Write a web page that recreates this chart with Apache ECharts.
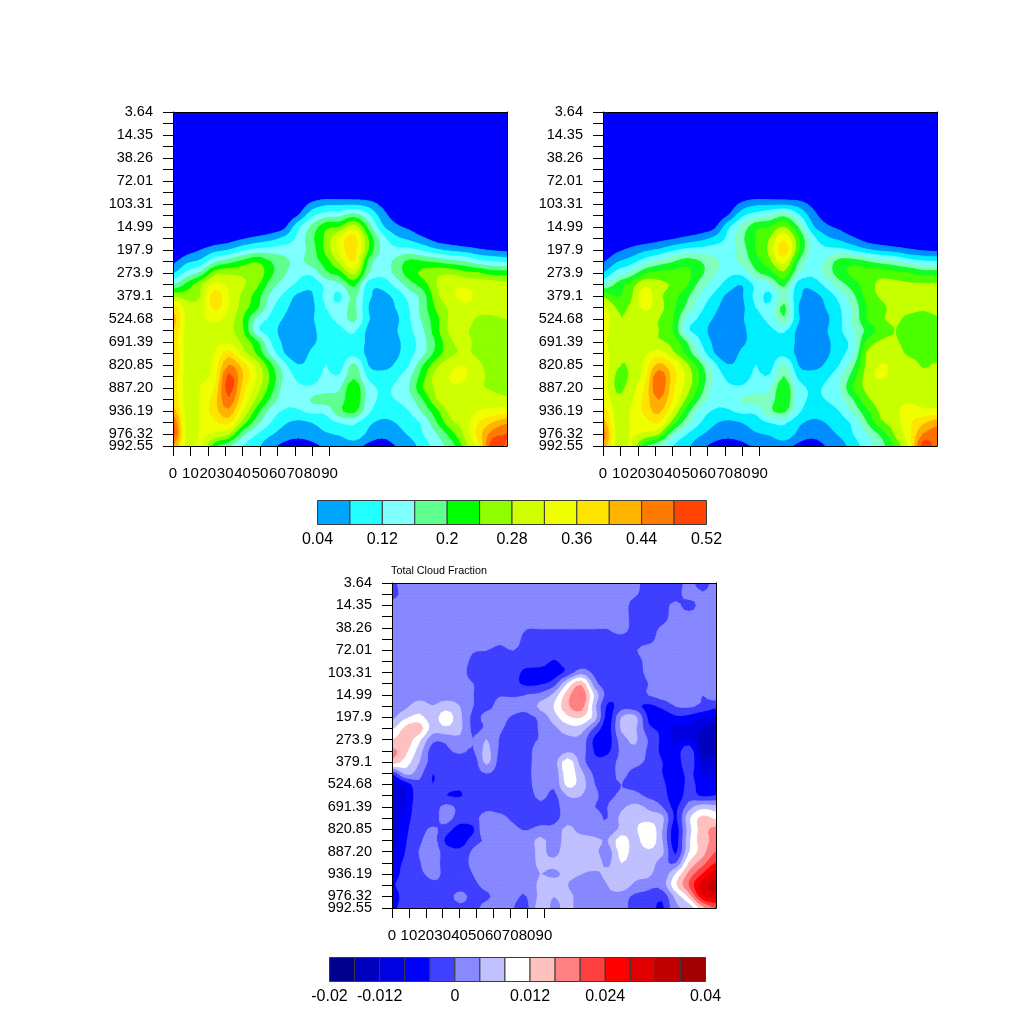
<!DOCTYPE html>
<html><head><meta charset="utf-8">
<style>html,body{margin:0;padding:0;background:#fff}#c{width:1024px;height:1024px}</style>
<script src="https://cdn.jsdelivr.net/npm/echarts@6/dist/echarts.min.js"></script>
</head><body><div id="c"></div>
<script>
const yTickLabels=['3.64','14.35','38.26','72.01','103.31','14.99','197.9','273.9','379.1','524.68','691.39','820.85','887.20','936.19','976.32','992.55'];
const yLabelLevels=[0,1,2,3,4,5,6,7,8,9,10,11,12,13,14,14.52];
const yTickLevels=[0,.5,1,1.5,2,2.5,3,3.5,4,4.5,5,5.5,6,6.5,7,7.5,8,8.5,9,9.5,10,10.5,11,11.5,12,12.5,13,13.5,14,14.52];
const xTickValues=[0,10,20,30,40,50,60,70,80,90];
const gridColumns=[0,8,16,24,32,40,48,56,64,72,80,88,96,104,112,120,128,136,144,152,160,168,176,184,192];
const cloudRows=[0,3.5,4,4.5,5,5.5,6,6.5,7,7.5,8,8.5,9,9.5,10,10.5,11,11.5,12,12.5,13,13.5,14,14.52];
const diffRows=yTickLevels;
const cloudEdges=[.04,.08,.12,.16,.2,.24,.28,.32,.36,.4,.44,.48,.52];
const cloudLabelValues=[.04,.12,.2,.28,.36,.44,.52];
const cloudColours=['#00a5ff','#22ffff','#80ffff','#5fff90','#00ff00','#8fff00','#cfff00','#efff00','#ffe400','#ffb400','#ff7a00','#ff4400'];
const cloudBelow='#0000ff';
const cloudColoursB=['#0090ff','#00f0ff','#70ffff','#80ffc0','#10ff20','#4cff00','#c8ff00','#f0ff00','#ffe400','#ffb000','#ff7000','#ff4000'];
const diffEdges=[-.02,-.016,-.012,-.008,-.004,0,.004,.008,.012,.016,.02,.024,.028,.032,.036,.04];
const diffLabelValues=[-.02,-.012,0,.012,.024,.04];
const diffColours=['#000090','#0000c0','#0000e0','#0000ff','#4040ff','#8888ff','#c0c0ff','#ffffff','#ffc0c0','#ff8080','#ff4040','#ff0000','#e00000','#c00000','#a00000'];

const cloudA=[
[0,0,0,0,0,0,0,0,0,0,0,0,0,0,0,0,0,0,0,0,0,0,0,0,0],
[0,0,0,0,0,0,0,0,0,0,0,0,0,0,0,0,0,0,0,0,0,0,0,0,0],
[0,0,0,0,0,0,0,0,0,.01,.05,.07,.07,.07,.06,.03,.01,0,0,0,0,0,0,0,0],
[0,0,0,0,0,0,0,0,.01,.04,.11,.14,.15,.18,.13,.06,.02,0,0,0,0,0,0,0,0],
[0,0,0,0,0,0,0,.01,.03,.11,.17,.23,.24,.30,.19,.09,.05,.03,.01,0,0,0,0,0,0],
[0,0,0,.01,.02,.035,.05,.065,.09,.13,.19,.25,.33,.38,.24,.14,.09,.07,.045,.02,.01,0,0,0,0],
[0,.02,.04,.065,.08,.11,.13,.135,.14,.14,.18,.25,.33,.38,.24,.15,.13,.13,.11,.085,.07,.06,.045,.035,.03],
[.03,.07,.09,.15,.18,.21,.235,.20,.17,.15,.18,.22,.29,.36,.19,.14,.17,.21,.20,.19,.17,.16,.13,.12,.11],
[.075,.13,.17,.26,.27,.27,.27,.21,.165,.13,.13,.19,.22,.29,.165,.13,.17,.22,.25,.27,.27,.25,.24,.22,.22],
[.155,.21,.27,.33,.31,.285,.25,.18,.14,.11,.09,.13,.15,.21,.10,.09,.13,.18,.22,.28,.31,.31,.30,.30,.29],
[.27,.26,.28,.38,.32,.27,.22,.15,.11,.07,.075,.13,.11,.17,.09,.07,.09,.135,.18,.27,.31,.33,.31,.31,.30],
[.38,.30,.30,.37,.32,.26,.21,.13,.09,.06,.07,.12,.13,.17,.08,.06,.08,.12,.18,.25,.29,.31,.30,.30,.30],
[.42,.30,.31,.33,.30,.24,.15,.11,.075,.06,.075,.11,.13,.17,.085,.06,.07,.115,.17,.23,.29,.30,.27,.27,.28],
[.40,.30,.31,.30,.29,.245,.13,.10,.06,.05,.07,.10,.11,.125,.07,.05,.075,.11,.155,.23,.29,.285,.26,.26,.26],
[.38,.30,.30,.31,.31,.27,.21,.12,.07,.05,.07,.10,.10,.11,.07,.05,.07,.10,.145,.21,.275,.29,.265,.26,.26],
[.40,.30,.31,.32,.38,.30,.235,.15,.08,.05,.09,.105,.105,.105,.07,.05,.07,.105,.15,.22,.27,.285,.27,.26,.26],
[.40,.30,.31,.33,.44,.38,.30,.21,.13,.08,.10,.12,.10,.17,.08,.06,.085,.12,.20,.27,.31,.318,.285,.265,.26],
[.38,.30,.31,.34,.49,.40,.32,.23,.15,.11,.11,.125,.125,.19,.11,.10,.11,.15,.225,.30,.322,.322,.29,.27,.27],
[.38,.30,.322,.36,.50,.38,.30,.22,.14,.125,.125,.14,.155,.23,.14,.115,.125,.16,.24,.29,.315,.31,.285,.275,.265],
[.39,.30,.322,.38,.47,.36,.27,.19,.135,.13,.165,.175,.175,.235,.14,.115,.12,.145,.20,.28,.31,.30,.31,.295,.29],
[.42,.30,.325,.38,.43,.32,.22,.145,.115,.115,.13,.13,.19,.21,.13,.10,.10,.12,.17,.23,.295,.30,.32,.33,.34],
[.48,.30,.325,.35,.37,.26,.175,.12,.085,.07,.08,.10,.12,.125,.09,.07,.08,.10,.13,.20,.27,.30,.36,.40,.43],
[.50,.30,.325,.31,.28,.17,.12,.085,.06,.05,.06,.075,.085,.11,.07,.05,.065,.085,.12,.16,.22,.29,.38,.46,.48],
[.44,.30,.325,.21,.165,.12,.09,.05,.03,.02,.03,.045,.045,.055,.03,.02,.04,.06,.10,.14,.18,.26,.35,.51,.47]
];
const cloudB=[
[0,0,0,0,0,0,0,0,0,0,0,0,0,0,0,0,0,0,0,0,0,0,0,0,0],
[0,0,0,0,0,0,0,0,0,0,0,0,0,0,0,0,0,0,0,0,0,0,0,0,0],
[0,0,0,0,0,0,0,0,0,.01,.05,.07,.07,.07,.06,.03,.01,0,0,0,0,0,0,0,0],
[0,0,0,0,0,0,0,0,.01,.04,.11,.14,.16,.19,.13,.06,.02,0,0,0,0,0,0,0,0],
[0,0,0,0,0,0,0,.01,.03,.11,.17,.23,.24,.28,.20,.09,.05,.03,.01,0,0,0,0,0,0],
[0,0,.01,.015,.025,.035,.05,.065,.09,.13,.19,.24,.28,.35,.25,.14,.09,.07,.045,.02,.01,0,0,0,0],
[.01,.03,.05,.07,.085,.11,.13,.135,.14,.14,.18,.24,.29,.39,.25,.15,.13,.13,.11,.085,.07,.06,.045,.035,.03],
[.035,.075,.10,.14,.17,.195,.22,.20,.17,.15,.17,.22,.27,.33,.20,.14,.165,.215,.22,.20,.18,.165,.14,.125,.12],
[.08,.135,.17,.23,.25,.25,.25,.21,.165,.13,.13,.19,.22,.27,.165,.13,.17,.22,.25,.26,.26,.25,.24,.22,.22],
[.155,.21,.255,.31,.29,.275,.245,.18,.14,.10,.08,.13,.15,.21,.10,.09,.13,.18,.22,.26,.29,.29,.285,.285,.285],
[.27,.235,.27,.34,.29,.255,.21,.15,.11,.07,.075,.13,.11,.17,.09,.07,.09,.135,.19,.255,.285,.295,.295,.295,.295],
[.33,.275,.285,.33,.295,.25,.19,.13,.09,.06,.07,.12,.13,.21,.08,.06,.08,.115,.17,.24,.27,.29,.29,.285,.29],
[.35,.285,.285,.29,.28,.24,.15,.11,.075,.06,.075,.11,.13,.19,.085,.06,.07,.11,.165,.24,.275,.285,.27,.265,.275],
[.34,.285,.285,.285,.28,.24,.13,.10,.06,.05,.07,.10,.11,.125,.07,.05,.075,.11,.16,.21,.255,.28,.26,.26,.26],
[.33,.285,.285,.285,.285,.265,.20,.12,.07,.05,.07,.10,.10,.11,.07,.05,.07,.10,.14,.25,.285,.285,.26,.26,.26],
[.34,.285,.285,.31,.34,.29,.23,.15,.08,.05,.09,.105,.105,.105,.07,.05,.07,.105,.15,.285,.30,.30,.27,.265,.265],
[.34,.285,.285,.33,.41,.36,.29,.21,.13,.08,.10,.12,.10,.17,.08,.06,.085,.12,.19,.29,.322,.31,.30,.275,.285],
[.34,.27,.285,.34,.47,.38,.31,.23,.15,.11,.11,.125,.125,.20,.11,.10,.11,.15,.22,.30,.325,.30,.285,.29,.30],
[.34,.27,.30,.36,.47,.37,.30,.22,.14,.125,.125,.14,.155,.23,.14,.115,.125,.16,.24,.29,.30,.30,.30,.30,.30],
[.35,.29,.31,.37,.44,.36,.27,.19,.135,.13,.165,.175,.175,.235,.14,.115,.12,.145,.20,.27,.30,.31,.31,.30,.30],
[.38,.30,.322,.37,.41,.32,.22,.145,.115,.115,.13,.13,.19,.21,.13,.10,.10,.12,.17,.23,.29,.31,.34,.33,.33],
[.42,.30,.322,.34,.36,.26,.175,.12,.085,.07,.08,.10,.12,.125,.09,.07,.08,.10,.13,.20,.27,.30,.35,.39,.42],
[.46,.30,.322,.31,.28,.17,.12,.085,.06,.05,.06,.075,.085,.11,.07,.05,.065,.085,.12,.16,.21,.285,.345,.44,.46],
[.43,.30,.322,.21,.165,.12,.09,.05,.03,.02,.03,.045,.045,.055,.03,.02,.04,.06,.10,.14,.18,.25,.33,.50,.46]
];
// difference field, in thousandths
const diffMilli=[
[-1,2,2,2,2,2,2,2,2,2,2,2,2,2,2,2,2,2,1,-2,-2,-2,1,-2,2],
[-2,2,2,2,2,2,2,2,2,2,2,2,2,2,2,2,2,2,.5,-2,-2,-2,2,.5,2],
[2,2,2,2,.5,2,2,2,2,2,2,2,2,2,2,2,2,2,-2,-2,-2,1,-2,2,2],
[2,2,2,.5,2,2,2,2,2,2,1,1,1,1,1,1,1,2,-2,-2,-2,2,2,2,2],
[2,2,2,2,2,2,2,2,2,2,.2,.2,.2,.2,.2,.2,.2,2,-2,-2,.5,2,2,2,2],
[2,2,2,2,2,2,2,2,1,2,-2,-2,-2,-2,-2,-2,-2,-1.5,-2,-2,2,2,2,2,2],
[2,2,2,2,2,2,.3,0,-1,0,-2,-2,-2,-2,-2,-2,-2,-2,-.5,2,2,2,2,2,2],
[2,2,1,2,2,2,-1,-2,-2,-2,-2,-2,-4.5,-2,-2,-2,-2,-2,-2,1.5,2,2,2,2,2],
[2,2,2,2,2,2,-2,-2,-2,-2.5,-5.5,-6,-6,-3,2,-1,-2,-2,-2,1,2,2,2,2,2],
[2,2,2,2,2,2,0,-2,-2,-3,-5,-4.5,-2,8,15,1.5,-2,-2,-2,0,2,2,2,2,2],
[2,2,2,2,2,2,0,-1,-.3,-.5,0,1,5,14,19,7,-2,-2,-2,0,1.5,2,2,0,2],
[2,3,6,4,6,4,0,-1,1,1,1,5,8,15,18,5,-5,-2,-3,-5,-3,0,.5,-1,-3],
[3,7,9,6,10,5,-1,1,1,-.5,-1,1,6,11,12,6,-6,4,5,-5,-7,-5,-5.5,-8,-9],
[7,13,14,6,7,5,-1,.5,.5,-2,-2,.5,3,6,6,-1,-6,4.5,4.5,-3,-5,-9,-9,-12,-14],
[12,14,9,1,1,3,0,4,-.5,-2,-2,.5,2,3,2.5,-5,-6,2,4.5,-.5,-5,-9,-8,-14,-16],
[17,13,6,-2,-1,1,-.5,5,-1,-2,-2,3,1.5,3,2,-4.5,-5,1,3,-1,-5,-7,-1,-14,-13],
[14,10,4,-2,-3,-3,-3,5,-2,-2,-2,3.5,2,10,2,-3,-2,1,1,-1,-4,-7,-1,-11,-10],
[-4,5,1.5,-4,-2,-2,-2,0,-1.5,-2,-2,4,1,10,5,-1,-1,.5,-1,-2,-4,-7,-3,-8,-9],
[-10,-7,-1,-4,-2,-3,-2,-1,-1,-2,-2,3,.5,9,6,0,-.5,0,-1,-2,-3,-7,-3,-6,-7],
[-12,-8,-2,-2,-4,-4.5,-2,-1,-2,-2,-2,1,-1,4,4,.5,-.5,.5,1,-1,-2,-7,-2,-5,-4],
[-12,-8,-1,-2,1,-1,-1.5,-.5,-1,-1,-2,-1,-1.5,2,2,0,0,3,5,3,0,-5,2,6,5],
[-12,-6,-2,-2,1.5,-2,-1,1,.5,-.5,-2,-1.5,-1.5,2,2,1,0,5,7,6,5,-5,7,13,11],
[-11,-5,-2,.5,-2,-6,-5,4,1,.5,-.3,1,1,5,2,1,1,5,7,11,4,-6,6,14,17],
[-10,-4.5,-1,1.5,-5,-7,-2,.5,1,1,1.5,5,1.5,6,6,5,4,10,6,11,4,-6,7,14,17],
[-9,-4,0,2,-2,-3,.5,2.5,1,1.5,1,5,2,7,6,5,2,9.5,6,7,5,-5,7.5,14,20],
[-7,-3,-.5,2,-2,-2,1,4,1,1.5,1.5,5,5,7,6,6,3,8,5,6,2,-.5,12,18,24],
[-7,-2,-1,1,-1,-2,0,3,1,0,2,4,3,5,4,3,5,5,5,5,1,8,17,24,30],
[-5,-1,-3,-1,-1,-2,-1,1,1,.5,1,5,6,4,2,1.5,4,6,3,1,1.5,11,20,30,33],
[-8,-1.5,-3,-2.5,-2,1,-1,-.5,1,.5,0,5,4,5,2,1.5,3,2,-1,-1,-3,5,13,27,30],
[-6,-1,-2,-2,-2,-1,-1,1,1,0,-1,6,3,5,2,1.5,1.5,1.5,-2,-2,-5,3,5,14,20]
];
const diffValues=diffMilli.map(r=>r.map(v=>v/1000));

const FONT='"Liberation Sans",Arial,sans-serif';
const chart=echarts.init(document.getElementById('c'),null,{renderer:'canvas'});

// contour drawing: smooth the read grid for the contour geometry only
const SUB=3;
function cr(p0,p1,p2,p3,t){return .5*(2*p1+(p2-p0)*t+(2*p0-5*p1+4*p2-p3)*t*t+(3*p1-p0-3*p2+p3)*t*t*t);}
function smoothAlong(line){
  const n=line.length,out=[];
  for(let i=0;i<n-1;i++){
    for(let s=0;s<SUB;s++){
      out.push(cr(line[Math.max(i-1,0)],line[i],line[i+1],line[Math.min(i+2,n-1)],s/SUB));
    }
  }
  out.push(line[n-1]);
  return out;
}
function linearAlong(line){
  const out=[];
  for(let i=0;i<line.length-1;i++)for(let s=0;s<SUB;s++)out.push(line[i]+(line[i+1]-line[i])*s/SUB);
  out.push(line[line.length-1]);
  return out;
}
function smoothField(values){
  const rowsDone=values.map(smoothAlong);
  const cols=rowsDone[0].map((_,c)=>smoothAlong(rowsDone.map(r=>r[c])));
  return cols[0].map((_,r)=>cols.map(col=>col[r]));
}
// keep the part of a cell where value >= edge
function clipCell(corners,edge){
  const out=[];
  for(let k=0;k<corners.length;k++){
    const a=corners[k],b=corners[(k+1)%corners.length];
    const ain=a[2]>=edge,bin=b[2]>=edge;
    if(ain)out.push([a[0],a[1]]);
    if(ain!==bin){
      const t=(edge-a[2])/(b[2]-a[2]);
      out.push([a[0]+t*(b[0]-a[0]),a[1]+t*(b[1]-a[1])]);
    }
  }
  return out;
}
function contourSeries(g,rows,values,edges,below,colours){
  const lower=[-Infinity].concat(edges.slice(0,-1));
  const fills=[below].concat(colours);
  const fine=smoothField(values),fx=linearAlong(gridColumns),fy=linearAlong(rows);
  return {
    type:'custom',xAxisIndex:g.x,yAxisIndex:g.y,silent:true,z:2,clip:true,
    data:lower.map((_,i)=>[i]),
    encode:{x:0},
    renderItem(params,api){
      const i=api.value(0),edge=lower[i],fill=fills[i],children=[];
      const px=fx.map(v=>api.coord([v,0])[0]),py=fy.map(v=>api.coord([0,v])[1]);
      if(i===0){
        children.push({type:'polygon',shape:{points:[[px[0],py[0]],[px[px.length-1],py[0]],[px[px.length-1],py[py.length-1]],[px[0],py[py.length-1]]]},style:{fill},silent:true});
        return {type:'group',children};
      }
      for(let r=0;r<fy.length-1;r++)for(let c=0;c<fx.length-1;c++){
        const cn=[[c,r],[c+1,r],[c+1,r+1],[c,r+1]].map(([cc,rr])=>[px[cc],py[rr],fine[rr][cc]]);
        if(Math.max(cn[0][2],cn[1][2],cn[2][2],cn[3][2])<edge)continue;
        const pts=clipCell(cn,edge);
        if(pts.length>=3)children.push({type:'polygon',shape:{points:pts},style:{fill,stroke:fill,lineWidth:.8},silent:true});
      }
      return {type:'group',children};
    }
  };
}
function barSeries(g,edges,colours){
  return {
    type:'custom',xAxisIndex:g.x,yAxisIndex:g.y,silent:true,z:2,
    data:colours.map((_,i)=>[i]),encode:{x:-1,y:-1},
    renderItem(params,api){
      const i=api.value(0),a=api.coord([edges[i],1]),b=api.coord([edges[i+1],0]);
      return {type:'rect',shape:{x:a[0],y:a[1],width:b[0]-a[0],height:b[1]-a[1]},style:{fill:colours[i],stroke:'#3a3a3a',lineWidth:1}};
    }
  };
}
const grids=[],xAxes=[],yAxes=[],series=[];
const line={show:true,onZero:false,lineStyle:{color:'#000',width:1}};
const yLabelStyle={show:true,margin:20,hideOverlap:false,padding:[2,0,0,0],fontFamily:FONT,fontSize:14.5,color:'#000',formatter:v=>yTickLabels[yLabelLevels.indexOf(v)]};
function panel(left,top,w,h){
  const gi=grids.length;
  grids.push({left,top,width:w,height:h,containLabel:false});
  const g={x:xAxes.length,y:yAxes.length};
  xAxes.push({gridIndex:gi,type:'value',position:'bottom',min:0,max:192,z:5,axisLine:line,splitLine:{show:false},
    axisTick:{show:true,length:10,inside:false,customValues:xTickValues,lineStyle:{color:'#000',width:1}},
    axisLabel:{show:true,margin:20,hideOverlap:false,fontFamily:FONT,fontSize:15,color:'#000',customValues:xTickValues,formatter:v=>String(v)}});
  yAxes.push({gridIndex:gi,type:'value',position:'left',inverse:true,min:0,max:14.52,z:5,axisLine:line,splitLine:{show:false},
    axisTick:{show:true,length:10,customValues:yTickLevels,lineStyle:{color:'#000',width:1}},
    axisLabel:Object.assign({customValues:yLabelLevels.slice(0,-1),showMinLabel:true,showMaxLabel:true},yLabelStyle)});
  xAxes.push({gridIndex:gi,type:'value',position:'top',min:0,max:192,z:5,axisLine:line,axisTick:{show:false},axisLabel:{show:false},splitLine:{show:false}});
  yAxes.push({gridIndex:gi,type:'value',position:'right',min:0,max:14.52,z:5,axisLine:line,axisTick:{show:false},axisLabel:{show:false},splitLine:{show:false}});
  // the bottom level label sits over its neighbour, so it gets an axis of its own
  const over=grids.length;
  grids.push({left,top,width:w,height:h,containLabel:false});
  xAxes.push({gridIndex:over,type:'value',min:0,max:192,show:false});
  yAxes.push({gridIndex:over,type:'value',position:'left',inverse:true,min:0,max:14.52,axisLine:{show:false},axisTick:{show:false},splitLine:{show:false},
    axisLabel:Object.assign({customValues:yLabelLevels.slice(-1)},yLabelStyle)});
  return g;
}
function bar(left,top,w,h,edges,labelValues){
  const gi=grids.length;
  grids.push({left,top,width:w,height:h,containLabel:false});
  const g={x:xAxes.length,y:yAxes.length};
  xAxes.push({gridIndex:gi,type:'value',position:'bottom',min:edges[0],max:edges[edges.length-1],
    axisLine:{show:false},axisTick:{show:false},splitLine:{show:false},
    axisLabel:{show:true,margin:7,hideOverlap:false,fontFamily:FONT,fontSize:16,color:'#000',customValues:labelValues,formatter:v=>String(+v.toFixed(3))}});
  yAxes.push({gridIndex:gi,type:'value',min:0,max:1,show:false});
  return g;
}
const pA=panel(173,112,334,334);
series.push(contourSeries(pA,cloudRows,cloudA,cloudEdges,cloudBelow,cloudColours));
const pB=panel(603,112,334,334);
series.push(contourSeries(pB,cloudRows,cloudB,cloudEdges,cloudBelow,cloudColoursB));
const pC=panel(392,583,324,325);
series.push(contourSeries(pC,diffRows,diffValues,diffEdges.slice(1),diffColours[0],diffColours.slice(1)));
const bA=bar(317.5,500.5,389,24,cloudEdges,cloudLabelValues);
series.push(barSeries(bA,cloudEdges,cloudColours));
const bB=bar(329.5,957.5,376,24,diffEdges,diffLabelValues);
series.push(barSeries(bB,diffEdges,diffColours));

chart.setOption({
  animation:false,backgroundColor:'#fff',
  title:{text:'Total Cloud Fraction',left:386,top:561,textStyle:{fontFamily:FONT,fontSize:10.8,fontWeight:'normal',color:'#000'}},
  grid:grids,xAxis:xAxes,yAxis:yAxes,series
});
</script></body></html>
